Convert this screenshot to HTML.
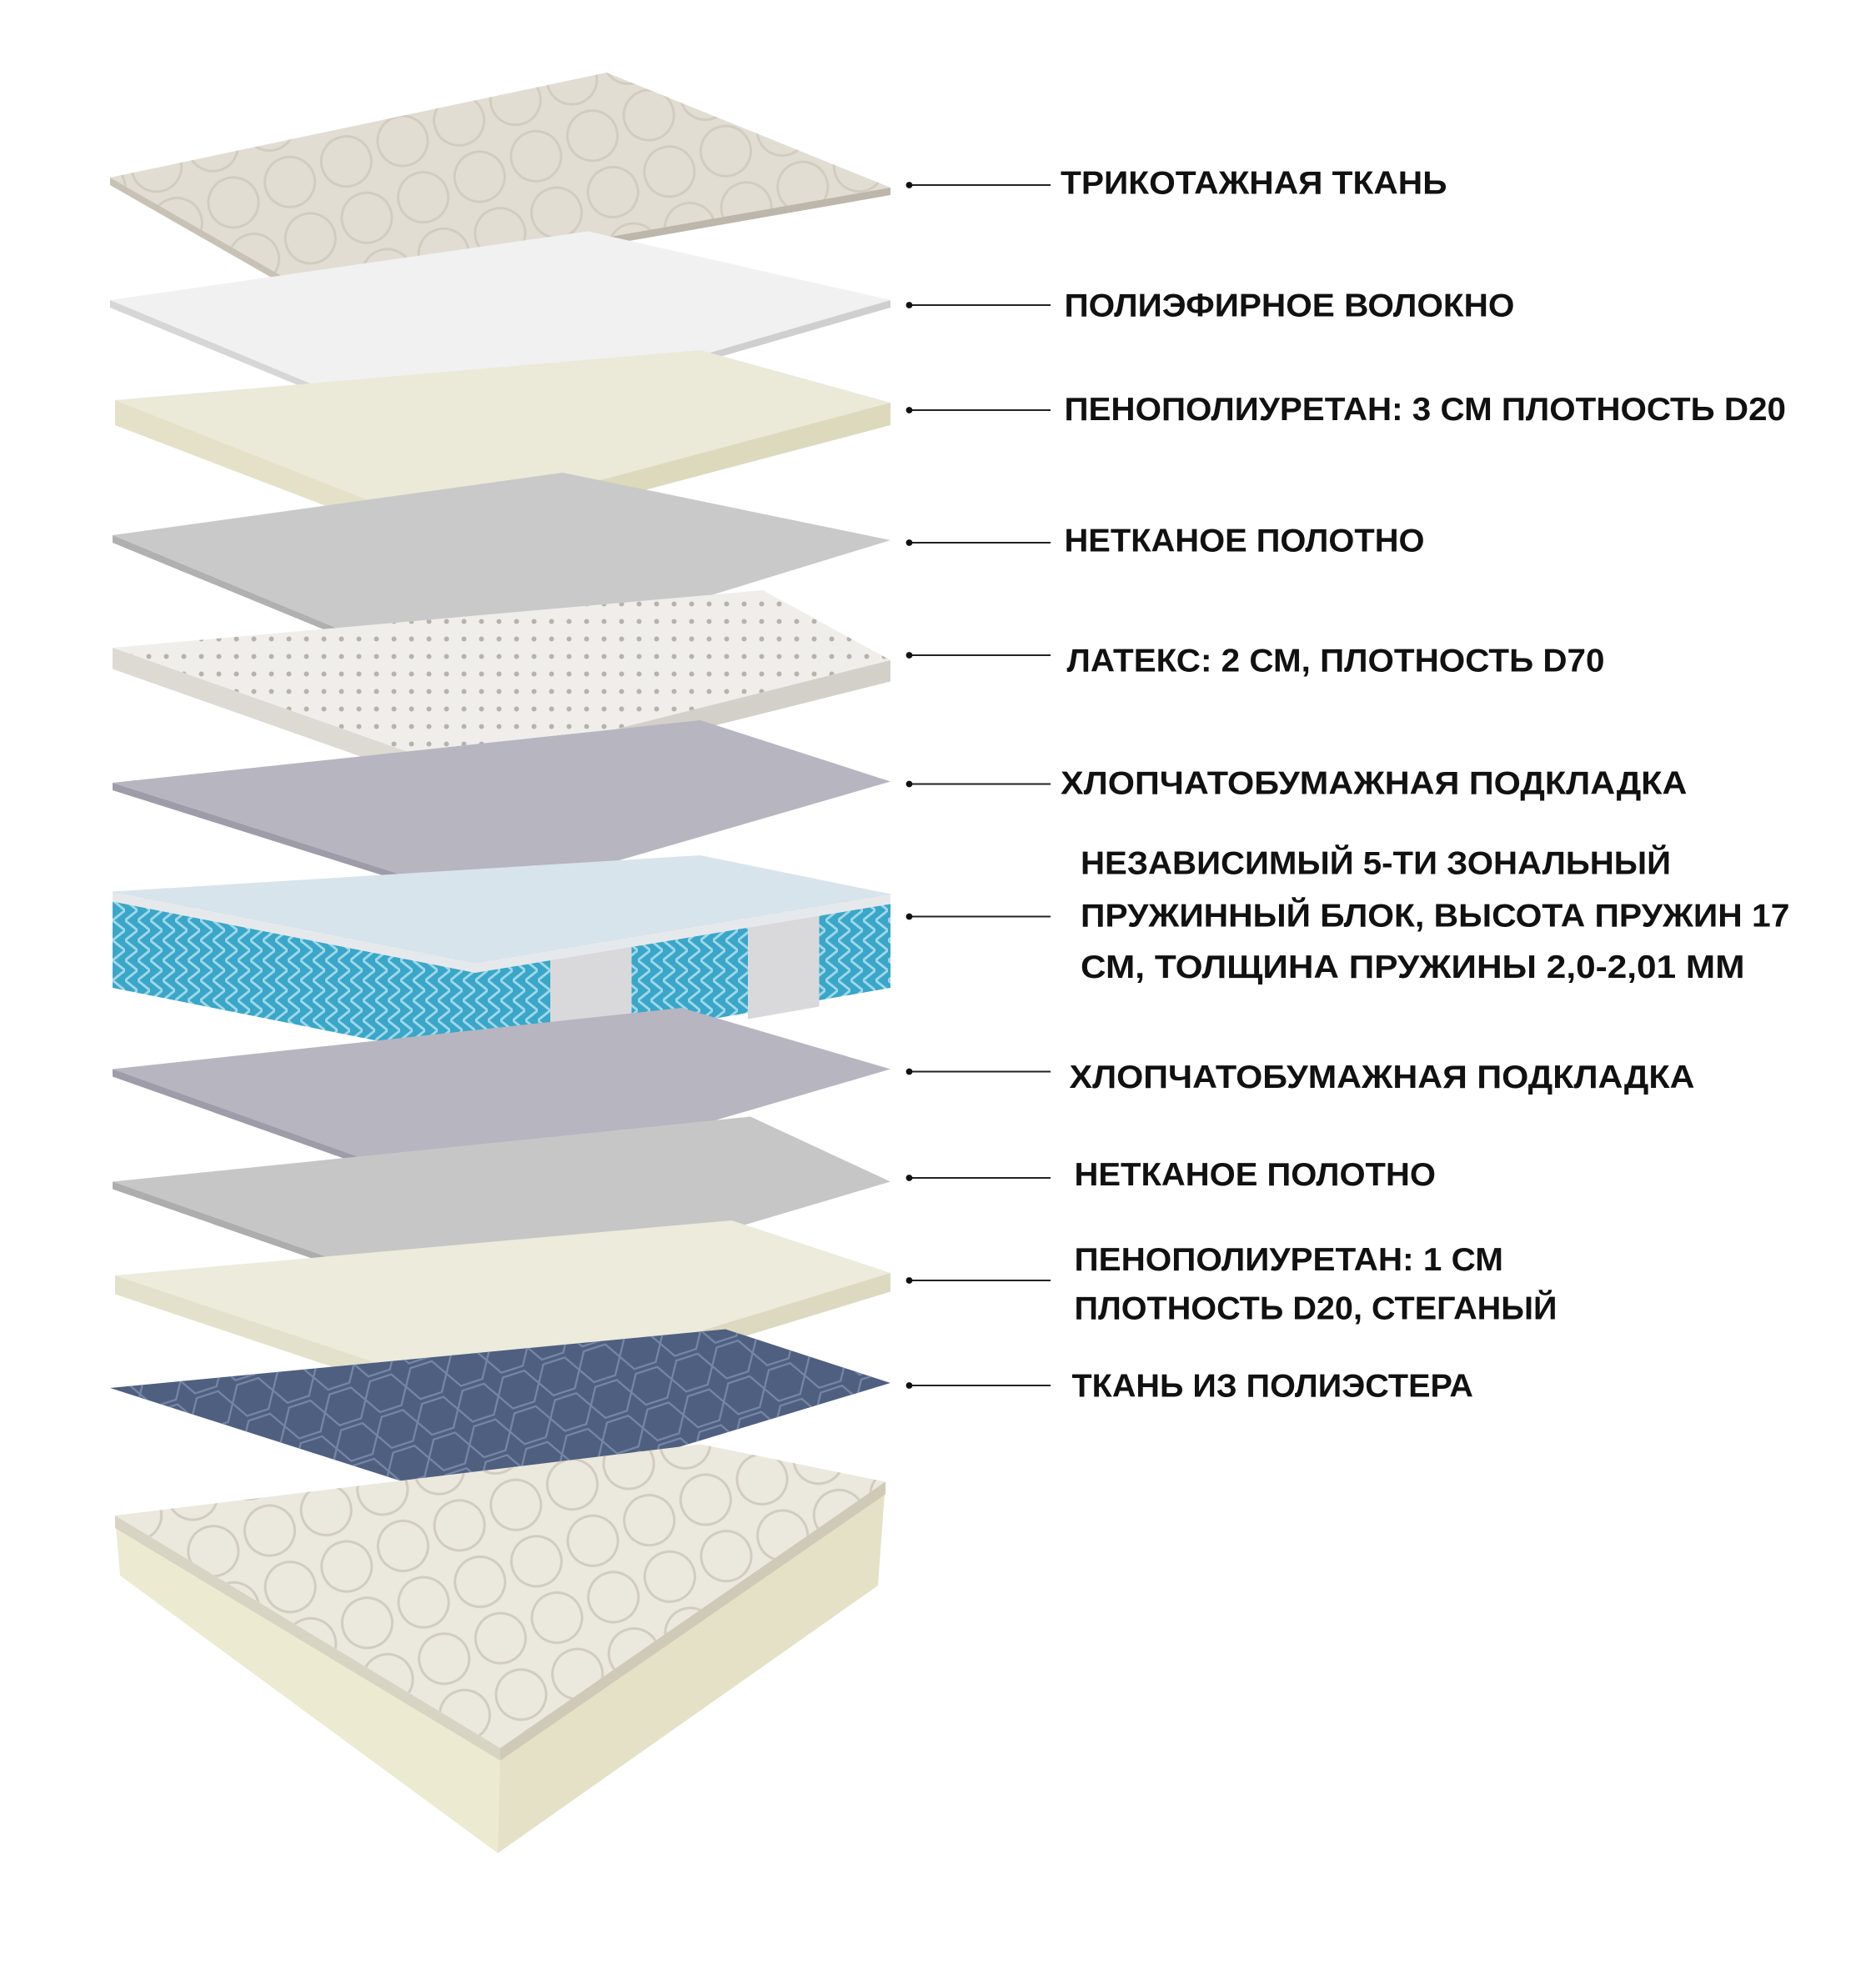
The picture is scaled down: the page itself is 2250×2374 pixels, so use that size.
<!DOCTYPE html>
<html><head><meta charset="utf-8"><style>
html,body{margin:0;padding:0;background:#fff;}
svg{display:block;}
text{font-family:"Liberation Sans",sans-serif;font-weight:bold;font-size:26px;fill:#111;}
</style></head><body>
<svg width="2250" height="2374" viewBox="0 0 1500 1582.67" preserveAspectRatio="none" xmlns="http://www.w3.org/2000/svg">
<defs>
<pattern id="dots" width="14" height="14" patternUnits="userSpaceOnUse"><circle cx="7" cy="7" r="2" fill="#b8b2aa"/></pattern>
<pattern id="quilt" width="48" height="48" patternUnits="userSpaceOnUse" patternTransform="rotate(-20)"><circle cx="24" cy="24" r="20" fill="none" stroke="#d2ccc0" stroke-width="2"/></pattern>
<pattern id="hex" width="34" height="30" patternUnits="userSpaceOnUse" patternTransform="rotate(-18)"><path d="M0 15 L8 2 H26 L34 15 L26 28 H8 Z" fill="none" stroke="#7686a6" stroke-width="1.5"/></pattern>
<pattern id="springs" width="10" height="80" patternUnits="userSpaceOnUse"><rect width="10" height="80" fill="#3aa6c8"/><path d="M0 0 L10 8 L0 16 L10 24 L0 32 L10 40 L0 48 L10 56 L0 64 L10 72 L0 80" fill="none" stroke="#9ed8ea" stroke-width="2"/></pattern>
</defs>

<polygon points="88,142 485,58 712,150 245,232" fill="#e2ddd3"/>
<polygon points="88,142 485,58 712,150 245,232" fill="url(#quilt)"/>
<polygon points="88,142 245,232 245,238 88,148" fill="#c8c2b6"/>
<polygon points="245,232 712,150 712,156 245,238" fill="#bdb6aa"/>

<polygon points="88,240 470,185 712,240 345,347" fill="#f1f1f1"/>
<polygon points="88,240 345,347 345,352 88,246" fill="#d6d6d6"/>
<polygon points="345,347 712,240 712,246 345,352" fill="#cfcfcf"/>

<polygon points="92,320 560,280 712,322 345,420" fill="#ebe9d8"/>
<polygon points="92,320 345,420 345,437 92,340" fill="#e4e1c8"/>
<polygon points="345,420 712,322 712,340 345,437" fill="#ddd9bd"/>

<polygon points="90,428 450,378 712,432 360,540" fill="#c9c9c9"/>
<polygon points="90,428 360,540 360,545 90,434" fill="#b0b0b0"/>

<polygon points="90,518 610,472 712,528 365,615" fill="#efeeea"/>
<polygon points="90,518 610,472 712,528 365,615" fill="url(#dots)"/>
<polygon points="90,518 365,615 365,632 90,535" fill="#dcdad3"/>
<polygon points="365,615 712,528 712,545 365,632" fill="#d2d0c8"/>

<polygon points="90,626 560,576 712,625 385,720" fill="#b7b5c0"/>
<polygon points="90,626 385,720 385,725 90,632" fill="#9e9ca8"/>

<polygon points="90,713 560,684 712,715 380,770" fill="#d8e4ec"/>
<polygon points="90,713 380,770 380,848 90,790" fill="url(#springs)"/>
<polygon points="380,770 712,715 712,790 380,848" fill="url(#springs)"/>
<polygon points="440,762 505,751 505,830 440,845" fill="#d9d9dc"/>
<polygon points="598,736 655,727 655,805 598,815" fill="#d9d9dc"/>
<polygon points="90,713 380,770 380,778 90,721" fill="#e6e9ec"/>
<polygon points="380,770 712,715 712,723 380,778" fill="#e6e9ec"/>

<polygon points="90,855 545,806 712,855 370,955" fill="#b7b5c0"/>
<polygon points="90,855 370,955 370,960 90,861" fill="#9e9ca8"/>

<polygon points="90,945 600,893 712,945 375,1045" fill="#c6c6c6"/>
<polygon points="90,945 375,1045 375,1050 90,951" fill="#adadad"/>

<polygon points="92,1020 585,976 712,1018 385,1118" fill="#ecebdc"/>
<polygon points="92,1020 385,1118 385,1133 92,1035" fill="#e3e1cb"/>
<polygon points="385,1118 712,1018 712,1033 385,1133" fill="#dcd9c0"/>

<polygon points="88,1110 580,1063 712,1106 385,1205" fill="#4f5f80"/>
<polygon points="88,1110 580,1063 712,1106 385,1205" fill="url(#hex)"/>

<polygon points="92,1212 560,1155 708,1185 400,1398" fill="#ebe8de"/>
<polygon points="92,1212 560,1155 708,1185 400,1398" fill="url(#quilt)"/>
<polygon points="92,1212 400,1398 398,1482 96,1260" fill="#ecead0"/>
<polygon points="400,1398 708,1185 702,1268 398,1482" fill="#e4e1c6"/>
<polygon points="92,1212 400,1398 400,1408 92,1222" fill="#d8d4c4"/>
<polygon points="400,1398 708,1185 708,1195 400,1408" fill="#cfcab8"/>

<g stroke="#222" stroke-width="1.3">
<line x1="727" y1="148" x2="840" y2="148"/>
<line x1="727" y1="244" x2="840" y2="244"/>
<line x1="727" y1="328" x2="840" y2="328"/>
<line x1="727" y1="434" x2="840" y2="434"/>
<line x1="727" y1="524" x2="840" y2="524"/>
<line x1="727" y1="627" x2="840" y2="627"/>
<line x1="727" y1="733" x2="840" y2="733"/>
<line x1="727" y1="857" x2="840" y2="857"/>
<line x1="727" y1="942" x2="840" y2="942"/>
<line x1="727" y1="1024" x2="840" y2="1024"/>
<line x1="727" y1="1108" x2="840" y2="1108"/>
</g>
<g fill="#111">
<circle cx="727" cy="148" r="2.6"/><circle cx="727" cy="244" r="2.6"/><circle cx="727" cy="328" r="2.6"/>
<circle cx="727" cy="434" r="2.6"/><circle cx="727" cy="524" r="2.6"/><circle cx="727" cy="627" r="2.6"/>
<circle cx="727" cy="733" r="2.6"/><circle cx="727" cy="857" r="2.6"/><circle cx="727" cy="942" r="2.6"/>
<circle cx="727" cy="1024" r="2.6"/><circle cx="727" cy="1108" r="2.6"/>
</g>

<text x="848" y="155" textLength="309" lengthAdjust="spacingAndGlyphs">ТРИКОТАЖНАЯ ТКАНЬ</text>
<text x="851" y="253" textLength="360" lengthAdjust="spacingAndGlyphs">ПОЛИЭФИРНОЕ ВОЛОКНО</text>
<text x="851" y="336" textLength="577" lengthAdjust="spacingAndGlyphs">ПЕНОПОЛИУРЕТАН: 3 СМ ПЛОТНОСТЬ D20</text>
<text x="851" y="441" textLength="288" lengthAdjust="spacingAndGlyphs">НЕТКАНОЕ ПОЛОТНО</text>
<text x="853" y="537" textLength="430" lengthAdjust="spacingAndGlyphs">ЛАТЕКС: 2 СМ, ПЛОТНОСТЬ D70</text>
<text x="848" y="635" textLength="501" lengthAdjust="spacingAndGlyphs">ХЛОПЧАТОБУМАЖНАЯ ПОДКЛАДКА</text>
<text x="864" y="699" textLength="472" lengthAdjust="spacingAndGlyphs">НЕЗАВИСИМЫЙ 5-ТИ ЗОНАЛЬНЫЙ</text>
<text x="864" y="741" textLength="567" lengthAdjust="spacingAndGlyphs">ПРУЖИННЫЙ БЛОК, ВЫСОТА ПРУЖИН 17</text>
<text x="864" y="782" textLength="531" lengthAdjust="spacingAndGlyphs">СМ, ТОЛЩИНА ПРУЖИНЫ 2,0-2,01 ММ</text>
<text x="855" y="870" textLength="500" lengthAdjust="spacingAndGlyphs">ХЛОПЧАТОБУМАЖНАЯ ПОДКЛАДКА</text>
<text x="859" y="948" textLength="289" lengthAdjust="spacingAndGlyphs">НЕТКАНОЕ ПОЛОТНО</text>
<text x="859" y="1016" textLength="343" lengthAdjust="spacingAndGlyphs">ПЕНОПОЛИУРЕТАН: 1 СМ</text>
<text x="859" y="1055" textLength="386" lengthAdjust="spacingAndGlyphs">ПЛОТНОСТЬ D20, СТЕГАНЫЙ</text>
<text x="857" y="1117" textLength="321" lengthAdjust="spacingAndGlyphs">ТКАНЬ ИЗ ПОЛИЭСТЕРА</text>
</svg>
</body></html>
